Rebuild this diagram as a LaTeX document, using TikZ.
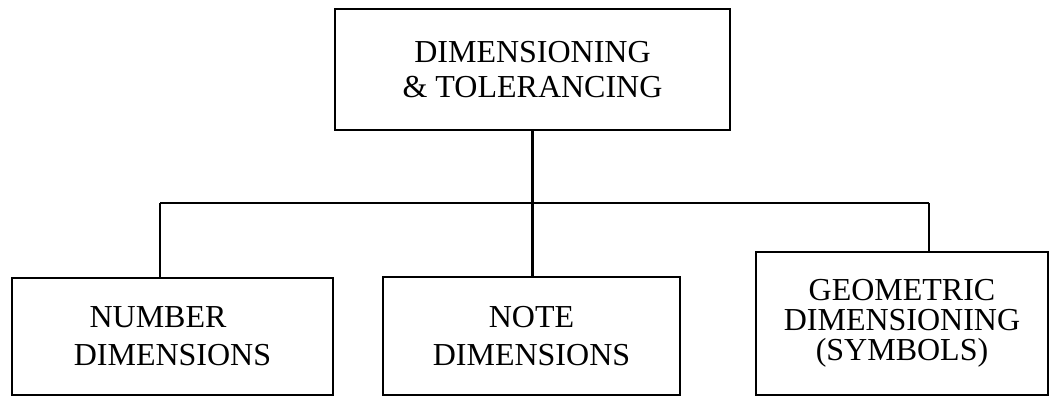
\documentclass[tikz,border=0pt]{standalone}
\usepackage{fontspec}
\setmainfont{Liberation Serif}
\begin{document}
\begin{tikzpicture}[x=1pt,y=-1pt,
  boxstyle/.style={draw, line width=2pt, rectangle, inner sep=0pt, align=center},
  conn/.style={line width=2.2pt}]
\useasboundingbox (0,0) rectangle (1049,398);
\node[boxstyle, minimum width=395pt, minimum height=121pt, font=\fontsize{32}{35}\selectfont] (top) at (532.5,69.5) {DIMENSIONING\\\& TOLERANCING};
\node[boxstyle, minimum width=321pt, minimum height=117pt, font=\fontsize{32}{38}\selectfont] (num) at (172.5,336.5) {NUMBER\hspace*{29pt}\\DIMENSIONS};
\node[boxstyle, minimum width=297pt, minimum height=118pt, font=\fontsize{32}{38}\selectfont] (note) at (531.5,336) {NOTE\\DIMENSIONS};
\node[boxstyle, minimum width=292pt, minimum height=143pt, font=\fontsize{32}{30}\selectfont] (geo) at (902,323.5) {GEOMETRIC\\DIMENSIONING\\(SYMBOLS)};
\coordinate (j) at (top.south |- 0,203);
\coordinate (bl) at (160,203);
\coordinate (br) at (929,203);
\draw[conn] (top.south) -- (j);
\draw[conn] (bl) -- (br);
\draw[conn] (bl) -- (bl |- num.north);
\draw[conn] (j) -- (j |- note.north);
\draw[conn] (br) -- (br |- geo.north);
\end{tikzpicture}
\end{document}
